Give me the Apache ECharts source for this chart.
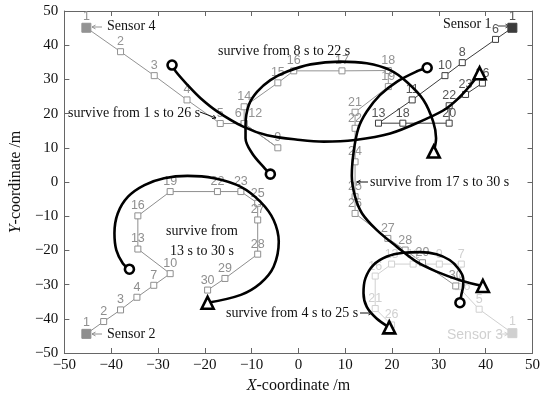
<!DOCTYPE html>
<html><head><meta charset="utf-8">
<script src="https://cdn.jsdelivr.net/npm/echarts@6/dist/echarts.min.js"></script>
<style>html,body{margin:0;padding:0;background:#fff}#c{width:543px;height:400px}</style>
</head><body><div id="c"></div>
<script>
// Sensor trajectories (x, y in metres) and their time-step labels
const s1X = [45.7, 42.1, 35.0, 31.3, 24.3, 17.1, 22.3, 32.2, 32.2, 35.7, 39.3];
const s1Y = [45.1, 41.7, 34.9, 31.1, 24.0, 17.2, 17.2, 17.2, 22.3, 25.6, 28.9];
const s1Labels = ['1','6','8','10','11','13','18','20','22','23','26'];

const s2X = [-45.3, -41.6, -38.0, -34.5, -30.9, -27.4, -34.3, -34.3, -27.4, -17.3, -12.3, -8.7, -8.7, -8.7, -15.7, -19.4];
const s2Y = [-44.4, -40.8, -37.4, -33.7, -30.2, -26.8, -19.6, -9.9, -2.8, -2.8, -2.8, -6.2, -11.1, -21.1, -28.2, -31.6];
const s2Labels = ['1','2','3','4','7','10','13','16','19','22','23','25','27','28','29','30'];

const s3X = [45.7, 38.6, 34.1, 34.8, 30.1, 24.5, 19.9, 16.4, 16.4, 19.9];
const s3Y = [-44.2, -37.2, -30.6, -24.0, -24.0, -24.0, -24.0, -27.5, -37.0, -41.8];
const s3Labels = ['1','5','6','7','9','11','13','16','21','26'];

const s4X = [-45.3, -38.0, -30.8, -23.8, -16.7, -11.6, -4.4, -11.6, -11.6, -4.4, -1.0, 9.3, 19.2, 19.2, 12.1, 12.1, 12.1, 12.1, 12.1, 19.1, 22.8, 26.5, 33.6];
const s4Y = [45.1, 38.1, 31.1, 24.0, 17.1, 17.1, 10.0, 17.1, 22.0, 29.0, 32.5, 32.5, 32.6, 27.9, 20.4, 15.7, 5.9, -4.3, -9.2, -16.5, -19.9, -23.6, -30.4];
const s4Labels = ['1','2','3','4','5','6','9','12','14','15','16','17','18','19','21','22','24','25','26','27','28','29','30'];

// Target trajectories (start = circle, end = triangle)
const t1X = [-27.0, -26.2, -23.7, -20.9, -17.3, -11.8, -6.7, 0.4, 5.4, 12.1, 19.6, 26.7, 31.6, 35.2, 38.7];
const t1Y = [34.2, 32.3, 28.4, 24.5, 20.6, 16.2, 13.7, 12.3, 11.8, 12.3, 14.2, 18.1, 21.5, 25.9, 31.8];
const t2X = [-6.0, -7.2, -9.9, -11.3, -11.3, -10.6, -8.8, -6.0, -2.4, 2.6, 8.9, 14.6, 19.6, 23.1, 26.7, 28.8, 29.4, 28.9];
const t2Y = [2.3, 4.0, 8.4, 12.8, 16.7, 22.5, 26.4, 29.8, 32.3, 34.4, 35.2, 34.7, 32.7, 29.3, 24.0, 17.6, 12.8, 8.9];
const t3X = [27.5, 25.2, 21.0, 17.4, 14.6, 12.8, 11.8, 11.4, 12.1, 13.6, 16.7, 21.0, 25.2, 29.5, 34.5, 39.4];
const t3Y = [33.4, 32.3, 29.3, 25.4, 20.6, 15.7, 8.9, 1.8, -4.3, -9.2, -14.0, -18.9, -23.3, -26.2, -28.7, -30.4];
const t4X = [-36.1, -37.5, -38.9, -39.3, -38.6, -36.4, -32.9, -28.7, -23.7, -18.0, -12.3, -8.1, -5.3, -4.2, -5.3, -8.1, -12.3, -19.4];
const t4Y = [-25.5, -23.8, -19.9, -15.0, -9.2, -4.3, -0.9, 1.1, 1.8, 1.1, -1.4, -5.8, -11.1, -17.5, -24.8, -29.6, -33.0, -35.3];
const t5X = [34.5, 34.8, 35.2, 35.2, 34.1, 32.3, 29.5, 25.9, 22.4, 18.9, 16.0, 14.3, 13.9, 14.6, 16.7, 19.4];
const t5Y = [-35.3, -33.0, -30.1, -28.2, -25.2, -22.8, -21.1, -20.5, -20.7, -21.8, -24.3, -28.2, -32.5, -36.5, -39.9, -42.5];

const tickVals = [-50, -40, -30, -20, -10, 0, 10, 20, 30, 40, 50];

const SERIF = 'Liberation Serif';
const SANS = 'Liberation Sans';
const minus = v => String(v).replace('-', '\u2212');

function sensorSeries(xs, ys, labels, color, labelColor, special) {
  const data = xs.map((x, i) => {
    const item = { value: [x, ys[i]] };
    if (i === 0) {
      item.symbolSize = 9;
      item.itemStyle = { color: color, borderColor: color };
    }
    if (special && special[i]) item.label = special[i];
    return item;
  });
  return {
    type: 'line', z: 2, data: data, symbol: 'rect', symbolSize: 6,
    lineStyle: { color: color, width: 1 },
    itemStyle: { color: '#fff', borderColor: color, borderWidth: 1 },
    label: {
      show: true, position: 'top', distance: 0, color: labelColor,
      fontFamily: SANS, fontSize: 12.5,
      formatter: p => labels[p.dataIndex]
    },
    animation: false, silent: true
  };
}

function targetSeries(xs, ys) {
  const n = xs.length;
  const data = xs.map((x, i) => {
    const item = { value: [x, ys[i]] };
    if (i === 0) { item.symbol = 'circle'; item.symbolSize = 9; }
    else if (i === n - 1) { item.symbol = 'triangle'; item.symbolSize = 12; }
    else { item.symbol = 'none'; }
    return item;
  });
  return {
    type: 'line', z: 5, data: data, smooth: 0.35, showSymbol: true,
    lineStyle: { color: '#000', width: 2.6 },
    itemStyle: { color: '#fff', borderColor: '#000', borderWidth: 2.6 },
    animation: false, silent: true
  };
}

function arrow(x1, y1, x2, y2, color) {
  const a = Math.atan2(y2 - y1, x2 - x1), h = 4;
  return [
    { type: 'line', z: 10, shape: { x1, y1, x2, y2 }, style: { stroke: color, lineWidth: 1 } },
    { type: 'polyline', z: 10, shape: { points: [
      [x2 - h * Math.cos(a - 0.5), y2 - h * Math.sin(a - 0.5)], [x2, y2],
      [x2 - h * Math.cos(a + 0.5), y2 - h * Math.sin(a + 0.5)]] },
      style: { stroke: color, lineWidth: 1, fill: null } }
  ];
}
function txt(x, y, t, opts) {
  return { type: 'text', z: 10, style: Object.assign({ x, y, text: t, fill: '#111',
    font: '14px "Liberation Serif"', textAlign: 'left', textVerticalAlign: 'middle' }, opts || {}) };
}

const G1 = '#3c3c3c', G2 = '#8e8e8e', G3 = '#d0d0d0', G4 = '#939393';

const axisCommon = {
  type: 'value', min: -50, max: 50, interval: 10,
  axisLine: { show: true, onZero: false, lineStyle: { color: '#666', width: 1 } },
  axisTick: { show: true, inside: true, length: 5, lineStyle: { color: '#666' } },
  splitLine: { show: false }
};

const option = {
  backgroundColor: '#fff',
  animation: false,
  grid: { left: 63, right: 10, top: 11, bottom: 47 },
  xAxis: [
    Object.assign({}, axisCommon, {
      position: 'bottom',
      axisLabel: { fontFamily: SERIF, fontSize: 15, color: '#111', margin: 5, formatter: minus },
      name: '{i|X}-coordinate /m', nameLocation: 'middle', nameGap: 22,
      nameTextStyle: { fontFamily: SERIF, fontSize: 16, color: '#111',
        rich: { i: { fontFamily: SERIF, fontSize: 16, fontStyle: 'italic', color: '#111' } } }
    }),
    Object.assign({}, axisCommon, { position: 'top', axisLabel: { show: false } })
  ],
  yAxis: [
    Object.assign({}, axisCommon, {
      position: 'left',
      axisLabel: { fontFamily: SERIF, fontSize: 15, color: '#111', margin: 6, formatter: minus },
      name: '{i|Y}-coordinate /m', nameLocation: 'middle', nameGap: 29,
      nameTextStyle: { fontFamily: SERIF, fontSize: 16, color: '#111',
        rich: { i: { fontFamily: SERIF, fontSize: 16, fontStyle: 'italic', color: '#111' } } }
    }),
    Object.assign({}, axisCommon, { position: 'right', axisLabel: { show: false } })
  ],
  series: [
    sensorSeries(s3X, s3Y, s3Labels, G3, G3, { 2: { position: 'right', distance: 2 } }),
    sensorSeries(s2X, s2Y, s2Labels, G2, G2),
    sensorSeries(s4X, s4Y, s4Labels, G4, G4, {
      5: { offset: [-6, 0] }, 7: { offset: [11, 0] } }),
    sensorSeries(s1X, s1Y, s1Labels, G1, '#555'),
    targetSeries(t1X, t1Y),
    targetSeries(t2X, t2Y),
    targetSeries(t3X, t3Y),
    targetSeries(t4X, t4Y),
    targetSeries(t5X, t5Y)
  ],
  graphic: [].concat(
    [txt(218, 51, 'survive from 8 s to 22 s')],
    [txt(68, 113, 'survive from 1 s to 26 s')],
    arrow(200, 112, 216, 118, '#111'),
    [txt(370, 182, 'survive from 17 s to 30 s')],
    arrow(368, 182, 357, 182, '#111'),
    [txt(202, 231, 'survive from', { textAlign: 'center' }),
     txt(202, 251, '13 s to 30 s', { textAlign: 'center' })],
    [txt(226, 313, 'survive from 4 s to 25 s')],
    arrow(360, 313, 372, 313, '#111'),
    [txt(107, 26, 'Sensor 4')],
    arrow(102, 27, 92, 27, G4),
    [txt(443, 24, 'Sensor 1')],
    arrow(498, 26, 509, 26, G1),
    [txt(107, 334, 'Sensor 2')],
    arrow(102, 334, 92, 334, G2),
    [txt(447, 335, 'Sensor 3', { fill: G3, font: '14px "Liberation Sans"' })],
    arrow(497, 334, 508, 334, G3)
  )
};

const chart = echarts.init(document.getElementById('c'), null, { renderer: 'canvas' });
chart.setOption(option);
</script>
</body></html>
